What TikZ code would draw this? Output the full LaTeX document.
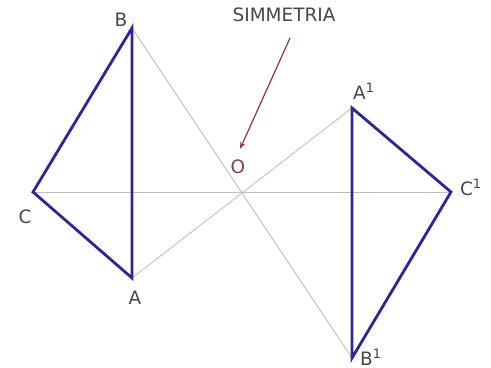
\documentclass[tikz,border=0pt]{standalone}
\usepackage{fontspec}
\setsansfont{DejaVu Sans}
\usepackage{xcolor}
\usepackage{tikz}
\usetikzlibrary{arrows.meta,calc}

\definecolor{triblue}{RGB}{42,40,150}
\definecolor{axisgray}{RGB}{190,190,195}
\definecolor{labgray}{RGB}{70,70,70}
\definecolor{arrred}{RGB}{140,60,75}

\begin{document}
\begin{tikzpicture}[
    x=0.02cm, y=-0.02cm,
    font=\sffamily\fontsize{10.5}{12}\selectfont,
    tri/.style={draw=triblue, line width=1.6pt, line join=miter},
    axis/.style={draw=axisgray, line width=0.5pt},
    lab/.style={text=labgray, inner sep=0pt},
    pointer/.style={draw=arrred, line width=0.7pt, -{Stealth[length=4pt,width=3pt]}},
    ]
\useasboundingbox (0,0) rectangle (491,368);

% vertices
\coordinate (O) at (242,193);
\coordinate (B) at (132,28);
\coordinate (A) at (132,278);
\coordinate (C) at (33,192);
\coordinate (A1) at ($(O)!-1!(A)$);
\coordinate (B1) at ($(O)!-1!(B)$);
\coordinate (C1) at (451,192);

% joining lines through the centre
\draw[axis] (B) -- (B1);
\draw[axis] (A) -- (A1);
\draw[axis] (C) -- (C1);

% the two triangles
\draw[tri] (B) -- (A) -- (C) -- cycle;
\draw[tri] (A1) -- (B1) -- (C1) -- cycle;

% labels
\node[lab] (lb) at (121,20) {B};
\node[lab] (la) at (135,298) {A};
\node[lab] (lc) at (25,217) {C};
\node[lab] (la1) at (364,91) {A\textsuperscript{1}};
\node[lab] (lc1) at (471,187) {C\textsuperscript{1}};
\node[lab] (lb1) at (371,357) {B\textsuperscript{1}};
\node[lab, text=arrred] (lo) at (238,167) {O};
\node[lab] (sim) at (284,15) {SIMMETRIA};

% pointer to the centre
\coordinate (tail) at (290,38);
\coordinate (tip) at (240,149);
\draw[pointer] (tail) -- (tip);
\end{tikzpicture}
\end{document}
